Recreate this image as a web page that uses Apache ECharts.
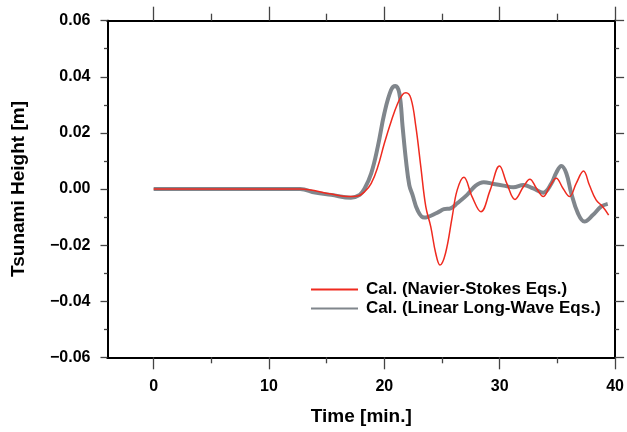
<!DOCTYPE html>
<html>
<head>
<meta charset="utf-8">
<script src="https://cdn.jsdelivr.net/npm/echarts@6/dist/echarts.min.js"></script>
<style>
html,body{margin:0;padding:0;background:#fff;}
#c{width:627px;height:432px;}
</style>
</head>
<body>
<div id="c"></div>
<script>
// Navier-Stokes calculation (red)
const nsTime = [0, 12.7, 15.4, 16.85, 17.7, 18.29, 18.86, 19.43, 20.0, 20.58, 21.15, 21.58, 21.87, 22.3, 22.73, 23.16, 23.59, 24.02, 24.45, 24.82, 25.3, 25.88, 26.31, 26.89, 27.6, 28.37, 29.17, 29.98, 30.61, 31.32, 32.05, 32.61, 33.19, 33.77, 34.33, 34.9, 35.49, 36.05, 36.63, 37.26, 37.77, 38.35, 38.93, 39.44];
const nsHeight = [0, 0, -0.0018, -0.0027, -0.0025, -0.001, 0.002, 0.0079, 0.0163, 0.024, 0.0305, 0.0337, 0.0343, 0.0323, 0.0222, 0.0079, -0.0063, -0.0134, -0.0229, -0.0271, -0.0229, -0.0099, -0.0004, 0.0042, -0.0027, -0.0081, -0.0004, 0.0082, 0.002, -0.0037, 0.0008, 0.0035, 0.0002, -0.0027, 0.0008, 0.0038, 0.0002, -0.0027, 0.002, 0.0064, 0.0014, -0.0039, -0.0063, -0.0093];
// Linear long-wave calculation (gray)
const lwTime = [0, 12.7, 14.0, 15.4, 17.1, 17.86, 18.29, 18.86, 19.43, 20.0, 20.58, 20.95, 21.3, 21.58, 21.87, 22.16, 22.44, 22.87, 23.45, 24.6, 25.17, 25.74, 26.31, 27.17, 27.89, 28.61, 29.47, 30.33, 31.19, 32.05, 32.9, 33.77, 34.48, 34.9, 35.34, 35.77, 36.2, 36.78, 37.34, 38.07, 38.78, 39.36];
const lwHeight = [0, 0, -0.0013, -0.0021, -0.0031, -0.0021, 0.0002, 0.0056, 0.0151, 0.027, 0.0353, 0.0367, 0.0341, 0.0222, 0.0103, 0.0014, -0.0021, -0.0075, -0.0102, -0.0084, -0.0072, -0.0069, -0.0051, -0.0021, 0.0011, 0.0024, 0.0018, 0.0012, 0.0006, 0.0014, 0.0002, -0.0013, 0.002, 0.0058, 0.0082, 0.0056, -0.0015, -0.0087, -0.0116, -0.0093, -0.0063, -0.0053];

const xMajor = [0, 10, 20, 30, 40];
const xMinor = [5, 15, 25, 35];
const yMajor = [-0.06, -0.04, -0.02, 0, 0.02, 0.04, 0.06];
const yMinor = [-0.05, -0.03, -0.01, 0.01, 0.03, 0.05];

const seriesNames = ['Cal. (Navier-Stokes Eqs.)', 'Cal. (Linear Long-Wave Eqs.)'];

const FONT = 'Liberation Sans, Arial, Helvetica, sans-serif';
const zip = (a, b) => a.map((v, i) => [v, b[i]]);

function xAxisDef(pos, vals, len, withLabel) {
  return {
    type: 'value', position: pos, min: -4, max: 40,
    axisLine: { show: true, onZero: false, lineStyle: { color: '#000', width: 2 } },
    axisTick: { show: true, customValues: vals, length: len, lineStyle: { color: '#444', width: 1.3 } },
    axisLabel: withLabel ? {
      show: true, customValues: vals, margin: 21, fontSize: 16, fontWeight: 'bold',
      fontFamily: FONT, color: '#000'
    } : { show: false },
    splitLine: { show: false },
    name: withLabel ? 'Time [min.]' : '',
    nameLocation: 'middle', nameGap: 50,
    nameTextStyle: { fontSize: 19, fontWeight: 'bold', fontFamily: FONT, color: '#000' }
  };
}
function yAxisDef(pos, vals, len, withLabel) {
  return {
    type: 'value', position: pos, min: -0.06, max: 0.06,
    axisLine: { show: true, onZero: false, lineStyle: { color: '#000', width: 2 } },
    axisTick: { show: true, customValues: vals, length: len, lineStyle: { color: '#444', width: 1.3 } },
    axisLabel: withLabel ? {
      show: true, customValues: vals, margin: 17, fontSize: 16, fontWeight: 'bold',
      fontFamily: FONT, color: '#000',
      formatter: v => (v < -1e-9 ? '\u2212' : '') + Math.abs(v).toFixed(2)
    } : { show: false },
    splitLine: { show: false },
    name: withLabel ? 'Tsunami Height [m]' : '',
    nameLocation: 'middle', nameGap: 79, nameRotate: 90,
    nameTextStyle: { fontSize: 19, fontWeight: 'bold', fontFamily: FONT, color: '#000' }
  };
}

const chart = echarts.init(document.getElementById('c'), null, { renderer: 'canvas' });
chart.setOption({
  animation: false,
  backgroundColor: '#fff',
  grid: { left: 107.5, right: 8.7, top: 20.7, bottom: 74.7, containLabel: false },
  xAxis: [
    xAxisDef('bottom', xMajor, 12, true),
    xAxisDef('bottom', xMinor, 6, false),
    xAxisDef('top', xMajor, 14, false),
    xAxisDef('top', xMinor, 7, false)
  ],
  yAxis: [
    yAxisDef('left', yMajor, 7, true),
    yAxisDef('left', yMinor, 3.5, false),
    yAxisDef('right', yMajor, 9, false),
    yAxisDef('right', yMinor, 4, false)
  ],
  legend: {
    orient: 'vertical', left: 310, top: 280, padding: 0,
    itemWidth: 47, itemHeight: 14, itemGap: 0,
    data: seriesNames,
    itemStyle: { opacity: 0, borderWidth: 0 },
    textStyle: { fontSize: 17, fontWeight: 'bold', fontFamily: FONT, color: '#000', lineHeight: 19, padding: [0, 0, 0, 3] }
  },
  series: [
    {
      name: seriesNames[1], type: 'line', xAxisIndex: 0, yAxisIndex: 0,
      data: zip(lwTime, lwHeight), symbol: 'none', smooth: 0.4,
      lineStyle: { color: '#80868c', width: 4 }, itemStyle: { color: '#80868c' }, z: 2
    },
    {
      name: seriesNames[0], type: 'line', xAxisIndex: 0, yAxisIndex: 0,
      data: zip(nsTime, nsHeight), symbol: 'none', smooth: 0.4,
      lineStyle: { color: '#ef2a1f', width: 1.5 }, itemStyle: { color: '#ef2a1f' }, z: 3
    }
  ]
});
</script>
</body>
</html>
